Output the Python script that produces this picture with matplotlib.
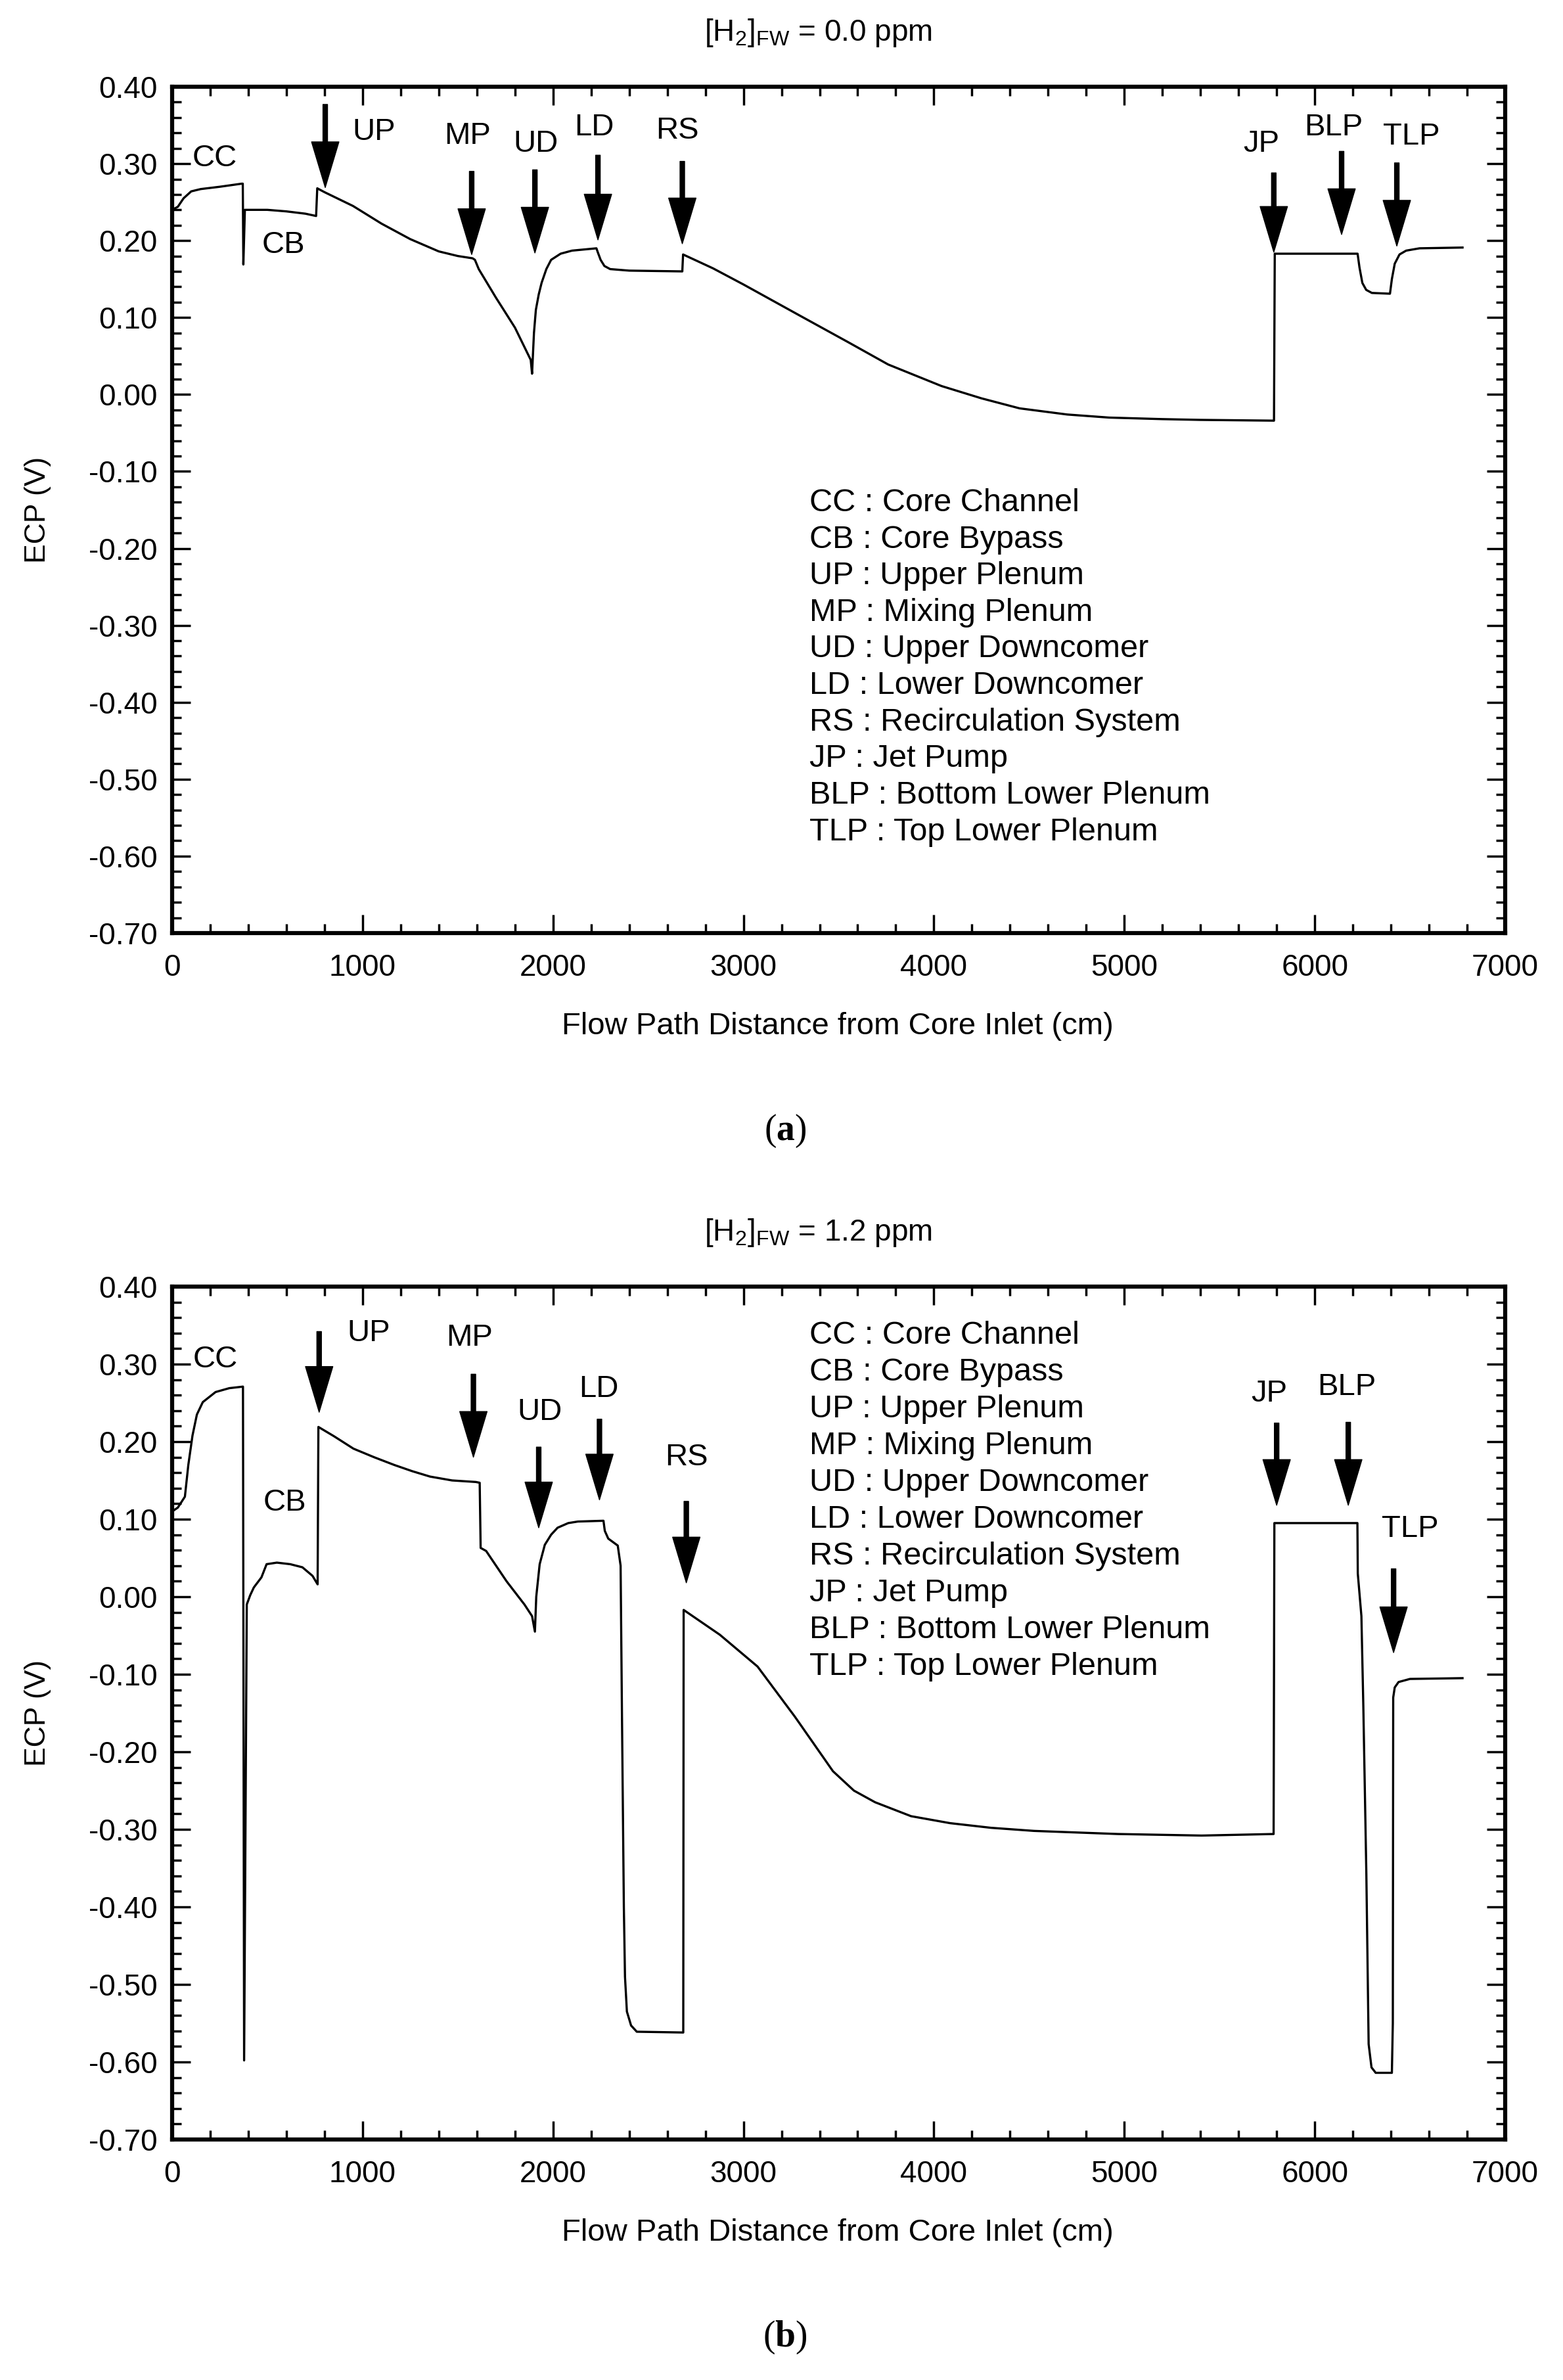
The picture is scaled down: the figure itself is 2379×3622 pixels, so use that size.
import matplotlib
matplotlib.use("Agg")
import matplotlib.pyplot as plt
from matplotlib.ticker import MultipleLocator, FormatStrFormatter

plt.rcParams['font.family'] = ['Liberation Sans', 'DejaVu Sans']
plt.rcParams['axes.unicode_minus'] = False
plt.rcParams['mathtext.fontset'] = 'custom'
plt.rcParams['mathtext.rm'] = 'Liberation Sans'
plt.rcParams['mathtext.bf'] = 'Liberation Serif:bold'
plt.rcParams['mathtext.default'] = 'regular'

# ---- ECP along the flow path, [H2]FW = 0.0 ppm ----
dist_a = [0, 30, 60, 100, 150, 250, 365, 371, 374, 382, 500, 600, 700, 756,
          762, 800, 950, 1100, 1250, 1400, 1500, 1578, 1590, 1610, 1700, 1800,
          1883, 1890, 1900, 1910, 1925, 1940, 1965, 1990, 2040, 2100, 2228,
          2235, 2250, 2270, 2300, 2400, 2679, 2683, 2840, 3000, 3300, 3550,
          3760, 4040, 4250, 4450, 4700, 4920, 5200, 5400, 5786, 5790, 6225,
          6235, 6250, 6270, 6300, 6395, 6405, 6420, 6445, 6480, 6550, 6776]
ecp_a = [0.240, 0.244, 0.255, 0.264, 0.267, 0.270, 0.274, 0.274, 0.169, 0.240,
         0.240, 0.238, 0.235, 0.232, 0.268, 0.263, 0.245, 0.222, 0.202, 0.186,
         0.180, 0.177, 0.175, 0.163, 0.126, 0.087, 0.045, 0.027, 0.080, 0.110,
         0.130, 0.145, 0.163, 0.175, 0.183, 0.187, 0.190, 0.185, 0.175, 0.167,
         0.163, 0.161, 0.160, 0.182, 0.164, 0.143, 0.102, 0.068, 0.039, 0.011,
         -0.005, -0.018, -0.026, -0.030, -0.032, -0.033, -0.034, 0.183, 0.183,
         0.165, 0.145, 0.136, 0.132, 0.131, 0.150, 0.170, 0.182, 0.187, 0.190,
         0.191]

# ---- ECP along the flow path, [H2]FW = 1.2 ppm ----
dist_b = [0, 30, 67, 85, 107, 130, 161, 228, 300, 372, 378, 392, 410, 429, 469,
          496, 550, 620, 684, 737, 764, 768, 850, 952, 1060, 1166, 1260, 1354,
          1470, 1595, 1615, 1620, 1649, 1756, 1850, 1890, 1905, 1912, 1930,
          1957, 1990, 2024, 2080, 2131, 2265, 2272, 2290, 2340, 2355, 2362,
          2372, 2378, 2388, 2410, 2440, 2684, 2686, 2876, 3074, 3271, 3470,
          3580, 3691, 3880, 4085, 4300, 4526, 4966, 5406, 5784, 5788, 6224,
          6226, 6245, 6255, 6271, 6283, 6298, 6320, 6405, 6410, 6412, 6420,
          6440, 6500, 6776]
ecp_b = [0.110, 0.115, 0.129, 0.170, 0.208, 0.235, 0.251, 0.264, 0.269, 0.271,
         -0.598, -0.010, 0.002, 0.012, 0.025, 0.042, 0.044, 0.042, 0.038, 0.027,
         0.016, 0.219, 0.207, 0.191, 0.180, 0.170, 0.162, 0.155, 0.150, 0.148,
         0.147, 0.063, 0.059, 0.020, -0.010, -0.025, -0.045, 0.000, 0.042,
         0.067, 0.080, 0.089, 0.095, 0.097, 0.098, 0.085, 0.075, 0.066, 0.040,
         -0.150, -0.400, -0.490, -0.535, -0.553, -0.561, -0.562, -0.017,
         -0.049, -0.090, -0.155, -0.225, -0.250, -0.265, -0.283, -0.292,
         -0.298, -0.302, -0.306, -0.308, -0.306, 0.095, 0.095, 0.030, -0.025,
         -0.140, -0.358, -0.577, -0.607, -0.614, -0.614, -0.550, -0.130,
         -0.117, -0.110, -0.106, -0.105]

region_keys = ['CC', 'CB', 'UP', 'MP', 'UD', 'LD', 'RS', 'JP', 'BLP', 'TLP']
region_names = ['Core Channel', 'Core Bypass', 'Upper Plenum', 'Mixing Plenum',
                'Upper Downcomer', 'Lower Downcomer', 'Recirculation System',
                'Jet Pump', 'Bottom Lower Plenum', 'Top Lower Plenum']

# arrows: name, x, tail y, tip y
arrows_a = [('UP', 804, 0.377, 0.269), ('MP', 1573, 0.290, 0.182),
            ('UD', 1905, 0.292, 0.184), ('LD', 2236, 0.311, 0.201),
            ('RS', 2679, 0.303, 0.196), ('JP', 5785, 0.288, 0.185),
            ('BLP', 6141, 0.316, 0.208), ('TLP', 6431, 0.301, 0.193)]
labels_a = [('CC', 225, 0.307), ('CB', 584, 0.194), ('UP', 1061, 0.341),
            ('MP', 1552, 0.336), ('UD', 1910, 0.326), ('LD', 2215, 0.347),
            ('RS', 2653, 0.343), ('JP', 5720, 0.326), ('BLP', 6100, 0.347),
            ('TLP', 6507, 0.335)]

arrows_b = [('UP', 772, 0.342, 0.238), ('MP', 1582, 0.287, 0.180),
            ('UD', 1925, 0.193, 0.089), ('LD', 2244, 0.229, 0.125),
            ('RS', 2700, 0.123, 0.018), ('JP', 5800, 0.224, 0.118),
            ('BLP', 6176, 0.225, 0.118), ('TLP', 6414, 0.036, -0.072)]
labels_b = [('CC', 228, 0.306), ('CB', 590, 0.121), ('UP', 1032, 0.340),
            ('MP', 1563, 0.334), ('UD', 1930, 0.238), ('LD', 2239, 0.268),
            ('RS', 2700, 0.180), ('JP', 5762, 0.262), ('BLP', 6169, 0.270),
            ('TLP', 6500, 0.087)]

W, H = 2379, 3622
fig = plt.figure(figsize=(W / 100, H / 100), dpi=100)

ax_left = 262 / W
ax_w = (2291 - 262) / W
ax_a = fig.add_axes([ax_left, 1 - 1420 / H, ax_w, 1288 / H])
ax_b = fig.add_axes([ax_left, 1 - 3256 / H, ax_w, 1298 / H])

panels = [
    (ax_a, dist_a, ecp_a, arrows_a, labels_a, -0.141, '0.0', 50, 1562, 1721, 'a'),
    (ax_b, dist_b, ecp_b, arrows_b, labels_b, 0.337, '1.2', 1876, 3398, 3557, 'b'),
]

for ax, xs, ys, arrows, labels, leg_y0, conc, title_px, xlab_px, tag_px, tag in panels:
    ax.plot(xs, ys, color='black', linewidth=2.4)
    ax.set_xlim(0, 7000)
    ax.set_ylim(-0.70, 0.40)

    ax.xaxis.set_major_locator(MultipleLocator(1000))
    ax.xaxis.set_minor_locator(MultipleLocator(200))
    ax.yaxis.set_major_locator(MultipleLocator(0.1))
    ax.yaxis.set_minor_locator(MultipleLocator(0.02))
    ax.yaxis.set_major_formatter(FormatStrFormatter('%.2f'))
    ax.tick_params(which='both', direction='in', top=True, right=True,
                   width=2.5, labelsize=33)
    ax.tick_params(which='major', length=20)
    ax.tick_params(which='minor', length=10)
    ax.tick_params(axis='x', pad=22)
    ax.tick_params(axis='y', pad=16)
    for sp in ax.spines.values():
        sp.set_linewidth(4.5)

    ax.set_ylabel('ECP (V)', fontsize=32)
    ax.yaxis.set_label_coords(-(262 - 78) / 2029, 0.5)

    for name, x, y0, y1 in arrows:
        ax.annotate('', xy=(x, y1), xytext=(x, y0),
                    arrowprops=dict(facecolor='black', edgecolor='black',
                                    width=5, headwidth=30, headlength=50,
                                    shrink=0))
    for name, x, y in labels:
        ax.text(x, y, name, ha='center', va='center', fontsize=34)

    for i, (k, n) in enumerate(zip(region_keys, region_names)):
        ax.text(3345, leg_y0 - i * 0.0475, f'{k} : {n}', ha='left', va='center',
                fontsize=35)

    fig.text(1245 / W, 1 - title_px / H, '[H$_2$]$_{FW}$ = ' + conc + ' ppm',
             ha='center', va='center', fontsize=33)
    fig.text(1275 / W, 1 - xlab_px / H, 'Flow Path Distance from Core Inlet (cm)',
             ha='center', va='center', fontsize=34)
    fig.text(1195 / W, 1 - tag_px / H, '($\\mathbf{' + tag + '}$)',
             ha='center', va='center', fontsize=40, family='Liberation Serif')

fig.savefig('out.png', dpi=100, facecolor='white')
